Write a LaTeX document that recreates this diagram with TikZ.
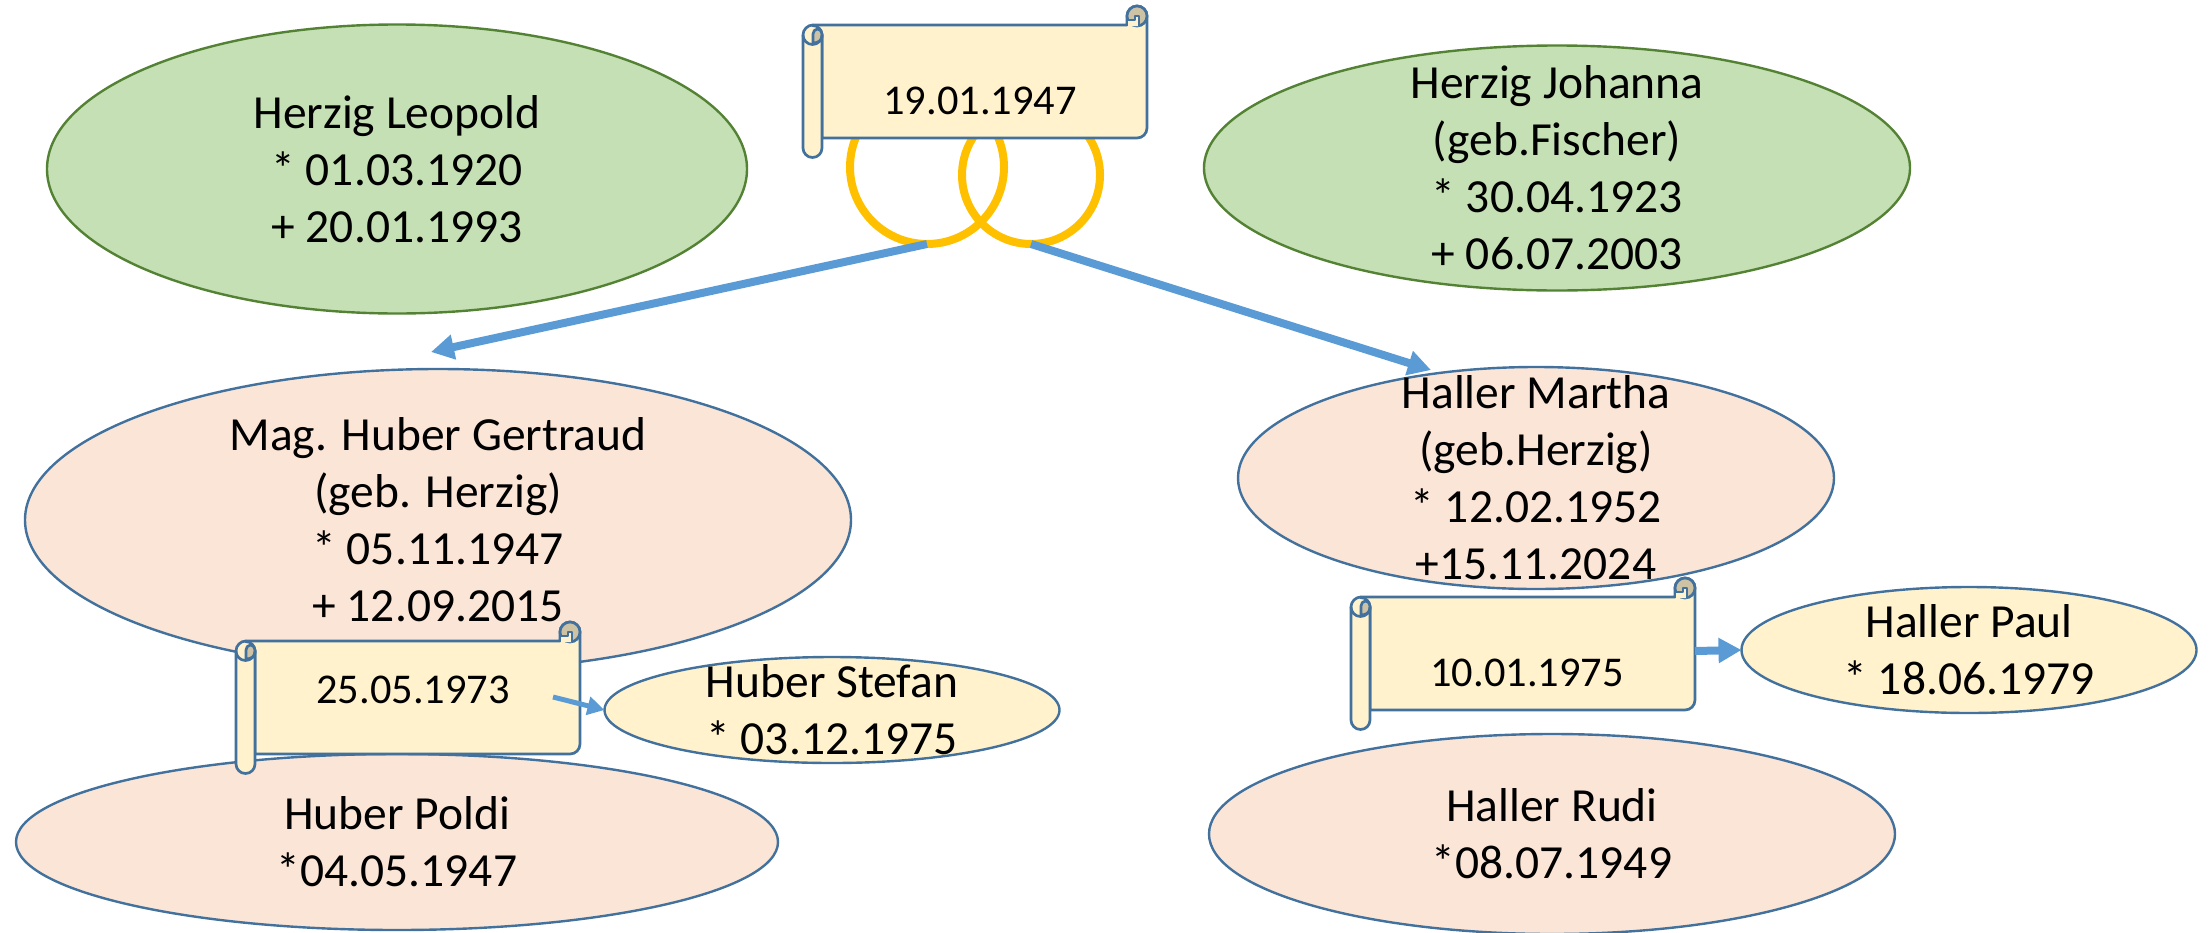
\documentclass[tikz,border=0pt]{standalone}
\usepackage{fontspec}
\setmainfont{Carlito}
\usetikzlibrary{arrows.meta,shapes.geometric}

\definecolor{rosefill}{HTML}{FBE5D6}
\definecolor{greenfill}{HTML}{C5E0B4}
\definecolor{greenline}{HTML}{548235}
\definecolor{yellowfill}{HTML}{FFF2CC}
\definecolor{curlfill}{HTML}{CDC2A3}
\definecolor{blueline}{HTML}{41719C}
\definecolor{arrowblue}{HTML}{5B9BD5}
\definecolor{ringgold}{HTML}{FFC000}

\tikzset{
  pics/weddingscroll/.style={code={
      % body with the curl top right
      \draw[rollline,fill=yellowfill] (10,0) -- (324,0) -- (324,-9)
        arc[start angle=180,end angle=360,radius=10] -- (344,103)
        arc[start angle=0,end angle=90,radius=10] -- (19,113) -- (19,10)
        -- (10,0) -- cycle;
      \draw[rollline,fill=curlfill] (324,-9)
        arc[start angle=180,end angle=540,radius=10];
      \draw[rollline,fill=yellowfill] (324,1) -- (324,-5) -- (332,-5)
        -- (332,-9) -- (336,-9) -- (336,1);
      % left roll
      \draw[rollline,fill=yellowfill] (10,0)
        arc[start angle=270,end angle=180,radius=10] -- (0,123)
        arc[start angle=180,end angle=0,radius=9.5] -- (19,10)
        arc[start angle=0,end angle=-90,radius=9.5] -- cycle;
      \draw[rollline,fill=curlfill] (10,18) -- (10,9)
        arc[start angle=180,end angle=360,x radius=4.5,y radius=5]
        -- (19,12) arc[start angle=0,end angle=90,x radius=9,y radius=6];
      \draw[rollline] (0,10) arc[start angle=180,end angle=0,radius=9.5];
      \coordinate (-east) at (344,54);
    }}
}

\begin{document}
\begin{tikzpicture}[x=1pt,y=-1pt,
  person/.style={ellipse,draw=blueline,line width=2.4pt,inner sep=0pt,
    inner ysep=-90pt,align=center,outer sep=0pt,
    font=\fontsize{47.5}{57}\selectfont},
  parent/.style={person,draw=greenline,fill=greenfill},
  child/.style={person,fill=rosefill},
  grandchild/.style={person,fill=yellowfill},
  rollline/.style={draw=blueline,line width=2.7pt,line join=round},
  datum/.style={inner sep=0pt,font=\fontsize{42.4}{50}\selectfont},
  ring/.style={circle,draw=ringgold,line width=8pt,inner sep=0pt,outer sep=0pt},
  descent/.style={draw=arrowblue,line width=8pt,-{Triangle[length=23pt,width=24pt]}}]
  \useasboundingbox (0,0) rectangle (2209,932);

  \node[ring,minimum size=154pt] (ringa) at (927,167) {};
  \node[ring,minimum size=138pt] (ringb) at (1031,175) {};
  \pic (weddingtop) at (803,25) {weddingscroll};
  \node[datum] (datetop) at (980,101) {19.01.1947};

  \node[parent,minimum width=700pt,minimum height=289pt] (leopold) at (397,169)
    {Herzig Leopold\\* 01.03.1920\\+ 20.01.1993};
  \node[parent,minimum width=706pt,minimum height=245pt] (johanna) at (1557,168)
    {Herzig Johanna\\(geb.Fischer)\\* 30.04.1923\\+ 06.07.2003};

  \node[child,minimum width=826pt,minimum height=302pt] (gertraud) at (438,520)
    {Mag. Huber Gertraud\\(geb. Herzig)\\* 05.11.1947\\+ 12.09.2015};
  \node[child,minimum width=596pt,minimum height=222pt] (martha) at (1536,478)
    {Haller Martha\\(geb.Herzig)\\* 12.02.1952\\+15.11.2024};
  \node[child,minimum width=762pt,minimum height=176pt] (poldi) at (397,842)
    {Huber Poldi\\*04.05.1947};
  \node[child,minimum width=686pt,minimum height=200pt] (rudi) at (1552,834)
    {Haller Rudi\\*08.07.1949};

  \node[grandchild,minimum width=455pt,minimum height=106pt] (stefan) at (832,710)
    {Huber Stefan\\* 03.12.1975};
  \node[grandchild,minimum width=455pt,minimum height=126pt] (paul) at (1969,650)
    {Haller Paul\\* 18.06.1979};

  \pic (weddinggertraud) at (236,641) {weddingscroll};
  \node[datum] (dategertraud) at (413,690) {25.05.1973};
  \pic (weddingmartha) at (1351,597) {weddingscroll};
  \node[datum] (datemartha) at (1527,673) {10.01.1975};

  % arrows
  \coordinate (tipgertraud) at (431,352);
  \coordinate (tipmartha) at (1431,370);
  \coordinate (startstefan) at (553,697);
  \draw[descent] (ringa.south) -- (tipgertraud);
  \draw[descent] (ringb.south) -- (tipmartha);
  \draw[descent,line width=5pt,-{Triangle[length=17pt,width=18pt]}] (startstefan) -- (stefan.west);
  \draw[descent] (weddingmartha-east) -- (paul.west);
\end{tikzpicture}
\end{document}
